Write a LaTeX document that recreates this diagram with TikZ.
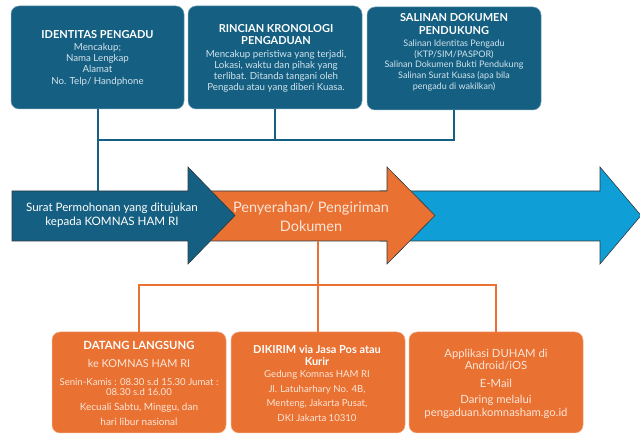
\documentclass[tikz,border=0pt]{standalone}
\usepackage{fontspec}
\setmainfont{Lato}
\definecolor{tealc}{HTML}{156082}
\definecolor{orangec}{HTML}{E97132}
\definecolor{bluec}{HTML}{0F9ED5}
\definecolor{tealtxt}{HTML}{D2E3EC}
\definecolor{orangetxt}{HTML}{FCE6D8}
\definecolor{outl}{HTML}{2F3A40}
\tikzset{
  topbox/.style={fill=tealc, draw=tealc!60!white, line width=0.5pt, rounded corners=8pt, inner sep=0pt},
  botbox/.style={fill=orangec, draw=orangec!60!white, line width=0.5pt, rounded corners=8pt, inner sep=0pt},
  toptext/.style={align=center, text=tealtxt, inner sep=0pt, font=\fontsize{9.7}{11.2}\selectfont},
  bottext/.style={align=center, text=orangetxt, inner sep=0pt, font=\fontsize{10}{10}\selectfont},
  tline/.style={draw=tealc, line width=2pt},
  oline/.style={draw=orangec, line width=2pt},
  arrowshape/.style={draw=outl, line width=0.6pt, line join=miter},
}
\newcommand{\ttl}[1]{{\color{white}\bfseries\fontsize{11}{11}\selectfont #1}}
\begin{document}
\begin{tikzpicture}[x=1pt,y=-1pt]
\useasboundingbox (0,0) rectangle (640,435);
% top boxes
\node[topbox, minimum width=173pt, minimum height=103pt] (b1) at (97.5,57.5) {};
\node[topbox, minimum width=174pt, minimum height=103pt] (b2) at (275,57.5) {};
\node[topbox, minimum width=174pt, minimum height=103pt] (b3) at (454,58.5) {};
\node[toptext] (t1) at (97.5,58) {\ttl{IDENTITAS PENGADU}\\[1pt]Mencakup;\\Nama Lengkap\\Alamat\\No. Telp/ Handphone};
\node[toptext] (t2) at (276,58.5) {\ttl{RINCIAN KRONOLOGI}\\[1pt]\ttl{PENGADUAN}\\[1pt]Mencakup peristiwa yang terjadi,\\Lokasi, waktu dan pihak yang\\terlibat. Ditanda tangani oleh\\Pengadu atau yang diberi Kuasa.};
\node[toptext, font=\fontsize{9}{10.8}\selectfont] (t3) at (454,52.5) {\ttl{SALINAN DOKUMEN}\\[2pt]\ttl{PENDUKUNG}\\[1pt]Salinan Identitas Pengadu\\(KTP/SIM/PASPOR)\\Salinan Dokumen Bukti Pendukung\\Salinan Surat Kuasa (apa bila\\pengadu di wakilkan)};
% arrows
\path[arrowshape, fill=bluec] (380,191) -- (600,191) -- (600,167) -- (641,215.5) -- (600,264) -- (600,241) -- (380,241) -- cycle;
\path[arrowshape, fill=orangec] (200,191) -- (387,191) -- (387,167) -- (435,215.5) -- (387,264) -- (387,241) -- (200,241) -- cycle;
\path[arrowshape, fill=tealc] (12,191) -- (188,191) -- (188,167) -- (235,215.5) -- (188,264) -- (188,241) -- (12,241) -- cycle;
\coordinate (a1t) at (97.5,191);
\coordinate (a2b) at (318,241);
\coordinate (hbar) at (0,140);
\coordinate (obar) at (0,285);
\node[align=center, text=white, inner sep=0pt, font=\fontsize{11.6}{14}\selectfont] (s1) at (112,215.5) {Surat Permohonan yang ditujukan\\kepada KOMNAS HAM RI};
\node[align=center, text=orangetxt, inner sep=0pt, font=\fontsize{14.5}{19}\selectfont] (s2) at (311,216.5) {Penyerahan/ Pengiriman\\Dokumen};
% top connectors
\draw[tline] (b1.south) -- (b1.south |- a1t);
\draw[tline] (b2.south) -- (b2.south |- hbar);
\draw[tline] (b3.south) -- (b3.south |- hbar) -- (b1.south |- hbar);
% bottom boxes
\node[botbox, minimum width=174pt, minimum height=101pt] (bA) at (139,382.5) {};
\node[botbox, minimum width=174pt, minimum height=101pt] (bB) at (318,382.5) {};
\node[botbox, minimum width=174pt, minimum height=101pt] (bC) at (496,382.5) {};
% bottom connectors
\draw[oline] (a2b) -- (a2b |- obar);
\draw[oline] (bA.north) -- (bA.north |- obar) -- (bC.north |- obar) -- (bC.north);
\draw[oline] (bB.north) -- (bB.north |- obar);
% bottom texts
\node[bottext] (tA) at (139,383.5) {{\color{white}\bfseries\fontsize{11.3}{11}\selectfont DATANG LANGSUNG}\\[8pt]{\fontsize{10.9}{11}\selectfont ke KOMNAS HAM RI}\\[8pt]{\fontsize{9.6}{10}\selectfont Senin-Kamis : 08.30 s.d 15.30 Jumat :}\\{\fontsize{9.6}{10}\selectfont 08.30 s.d 16.00}\\[5pt]Kecuali Sabtu, Minggu, dan\\[5pt]hari libur nasional};
\node[bottext, font=\fontsize{9.6}{10}\selectfont] (tB) at (317,383.5) {\ttl{DIKIRIM via Jasa Pos atau}\\[2pt]\ttl{Kurir}\\[2pt]Gedung Komnas HAM RI\\[5pt]Jl. Latuharhary No. 4B,\\[4pt]Menteng, Jakarta Pusat,\\[5pt]DKI Jakarta 10310};
\node[bottext, font=\fontsize{11.3}{12.5}\selectfont] (tC) at (496,383.5) {Applikasi DUHAM di\\Android/iOS\\[5pt]E-Mail\\[4pt]Daring melalui\\pengaduan.komnasham.go.id};
\end{tikzpicture}
\end{document}
